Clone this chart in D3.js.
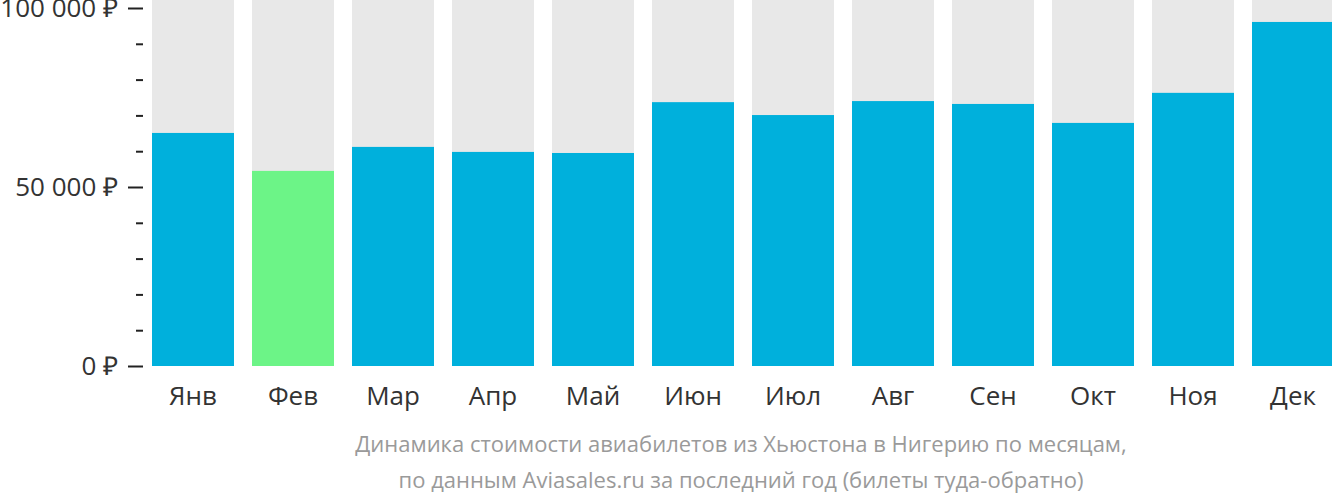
<!DOCTYPE html>
<html><head><meta charset="utf-8">
<script src="https://cdn.jsdelivr.net/npm/d3@7"></script>
<style>body{margin:0;background:#fff}svg{display:block}</style>
</head><body>
<svg id="c" width="1332" height="502"></svg>
<script>
const months = ["Янв","Фев","Мар","Апр","Май","Июн","Июл","Авг","Сен","Окт","Ноя","Дек"];
const prices = [65100,54500,61200,59800,59500,73700,70100,74000,73200,67900,76300,96100];
const cheapestMonth = "Фев";
const majorTicks = [0,50000,100000];
const minorTicks = [10000,20000,30000,40000,60000,70000,80000,90000];
const titleLines = ["Динамика стоимости авиабилетов из Хьюстона в Нигерию по месяцам,",
                    "по данным Aviasales.ru за последний год (билеты туда-обратно)"];

const svg = d3.select("#c");
const x = d3.scaleBand().domain(months).range([143,1343]).paddingInner(0.18).paddingOuter(0.09);
const y = d3.scaleLinear().domain([0,100000]).range([366,8]);
const fmt = v => d3.format(",")(v).replace(/,/g," ") + " ₽";

// background bars
svg.append("g").selectAll("rect").data(months).join("rect")
  .attr("x", d=>x(d)).attr("width", x.bandwidth())
  .attr("y", 0).attr("height", y(0))
  .attr("fill", "#e8e8e8");

svg.append("g").selectAll("rect").data(prices).join("rect")
  .attr("x", (d,i)=>x(months[i])).attr("width", x.bandwidth())
  .attr("y", d=>y(d)).attr("height", d=>y(0)-y(d))
  .attr("fill", (d,i)=>months[i]===cheapestMonth ? "#6cf487" : "#00b0dc");

// y axis
const yAxis = svg.append("g").attr("transform","translate(143,0)")
  .call(d3.axisLeft(y).tickValues(majorTicks).tickFormat(fmt).tickSize(15).tickPadding(10));
yAxis.select(".domain").remove();
yAxis.selectAll("line").attr("stroke","#222").attr("stroke-width",2);
yAxis.selectAll("text").attr("fill","#333").style("font-family","Open Sans").style("font-size","26px");
const yMinor = svg.append("g").attr("transform","translate(143,0)")
  .call(d3.axisLeft(y).tickValues(minorTicks).tickFormat("").tickSize(7));
yMinor.select(".domain").remove();
yMinor.selectAll("line").attr("stroke","#222").attr("stroke-width",2);

// x axis
const xAxis = svg.append("g").attr("transform",`translate(0,${y(0)})`)
  .call(d3.axisBottom(x).tickSize(0).tickPadding(21));
xAxis.select(".domain").remove();
xAxis.selectAll("text").attr("fill","#333").style("font-family","Open Sans").style("font-size","26px");

// title
svg.append("g").selectAll("text").data(titleLines).join("text")
  .attr("x", 741).attr("y", (d,i)=>452+i*36)
  .attr("text-anchor","middle")
  .attr("fill","#9a9a9a")
  .style("font-family","Open Sans").style("font-size","22px")
  .text(d=>d);
</script>
</body></html>
